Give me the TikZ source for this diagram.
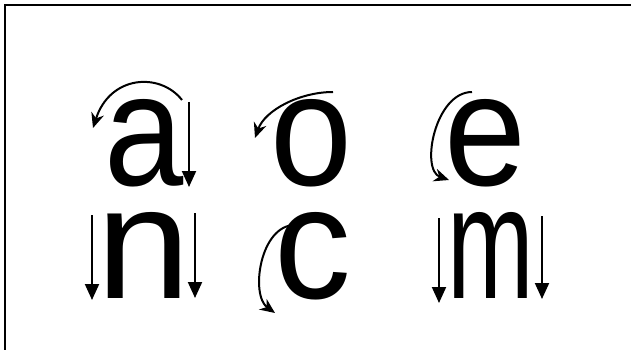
\documentclass[tikz,border=0pt]{standalone}
\usepackage{fontspec}
\setmainfont{Liberation Sans}
\usetikzlibrary{arrows.meta}

\newcommand{\squeeze}[2]{\scalebox{#1}[1]{#2}}

\begin{document}
\begin{tikzpicture}[
  x=1pt, y=-1pt,
  letter/.style={anchor=base, inner sep=0pt,
                 font=\fontsize{160}{160}\selectfont},
  down/.style={-{Triangle[length=16pt, width=14pt]}, line width=2pt},
  turn/.style={-{Stealth[length=15pt, width=13pt]}, line width=2pt}
]
\useasboundingbox (0,0) rectangle (631,350);
\draw[line width=2pt] (5,400) -- (5,5) -- (700,5);
% letters
\node[letter] (a) at (144,185) {\squeeze{0.89}{a}};
\node[letter] (o) at (311,185) {\squeeze{0.92}{o}};
\node[letter] (e) at (485,185) {\squeeze{0.92}{e}};
\node[letter] (n) at (144,298) {\squeeze{1.06}{n}};
\node[letter] (c) at (313,298) {\squeeze{0.96}{c}};
\node[letter] (m) at (491,298) {\squeeze{0.65}{m}};
% strokes
\draw[down] (189,102) -- (189,187);
\draw[turn] (182,100) .. controls (160,72) and (110,75) .. (93,128);
\draw[turn] (333,92) .. controls (300,92) and (265,110) .. (255,138);
\draw[turn] (472,92) .. controls (435,92) and (420,170) .. (449,180);
\draw[down] (92,215) -- (92,300);
\draw[down] (195,213) -- (195,298);
\draw[turn] (295,225) .. controls (260,225) and (250,295) .. (275,313);
\draw[down] (439,218) -- (439,303);
\draw[down] (542,216) -- (542,299);
\end{tikzpicture}
\end{document}
